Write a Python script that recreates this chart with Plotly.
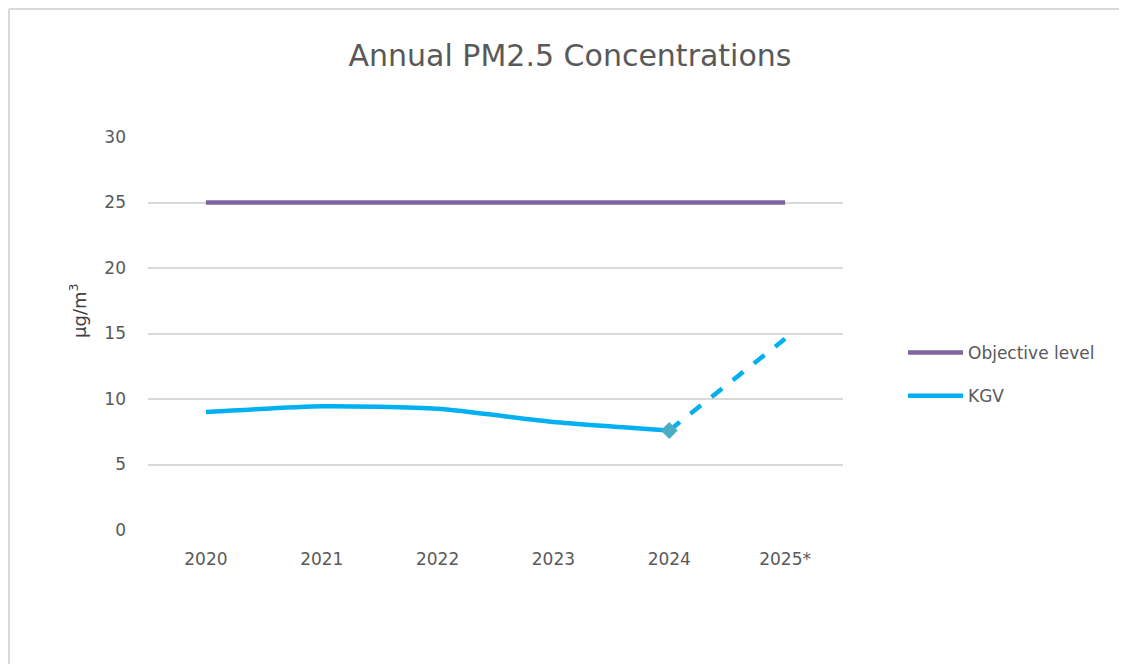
import plotly.graph_objects as go

years = ["2020", "2021", "2022", "2023", "2024", "2025*"]
objective = [25, 25, 25, 25, 25, 25]
kgv_years = ["2020", "2021", "2022", "2023", "2024"]
kgv_measured = [9.0, 9.45, 9.25, 8.25, 7.6]
kgv_proj_years = ["2024", "2025*"]
kgv_proj = [7.6, 14.6]

FONT = "'DejaVu Sans', sans-serif"
GREY = "#595959"
OFF = 8  # browser body margin

fig = go.Figure()
fig.add_trace(go.Scatter(x=years, y=objective, mode="lines", name="Objective level",
                         legendgroup="a", line=dict(color="#8064A2", width=4.5)))
fig.add_trace(go.Scatter(x=kgv_years, y=kgv_measured, mode="lines", name="KGV",
                         legendgroup="b",
                         line=dict(color="#00B0F0", width=4.5, shape="spline", smoothing=0.6)))
fig.add_trace(go.Scatter(x=kgv_proj_years, y=kgv_proj, mode="lines", showlegend=False,
                         legendgroup="b",
                         line=dict(color="#00B0F0", width=4.5, dash="dash")))
fig.add_trace(go.Scatter(x=[kgv_proj_years[0]], y=[kgv_proj[0]], mode="markers", showlegend=False,
                         legendgroup="b",
                         marker=dict(symbol="diamond", size=13, color="#4BACC6")))

W, H = 1127 - OFF, 664 - OFF
L, R, T, B = 148 - OFF, 843 - OFF, 137 - OFF, 530 - OFF
pw, ph = R - L, B - T

def px(x):
    return (x - OFF - L) / pw

def py(y):
    return (B - (y - OFF)) / ph

fig.update_layout(
    width=W, height=H,
    margin=dict(l=L, r=W - R, t=T, b=H - B),
    paper_bgcolor="white", plot_bgcolor="white",
    font=dict(family=FONT, color=GREY, size=17),
    title=dict(text="Annual PM2.5 Concentrations", xref="paper", x=px(570), xanchor="center",
               yref="container", y=1 - (55 - OFF) / H, yanchor="middle",
               font=dict(size=30, color=GREY)),
    xaxis=dict(type="category", range=[-0.5, 5.5], showgrid=False, showline=False,
               ticks="", tickfont=dict(size=17, color=GREY), ticklabelstandoff=17),
    yaxis=dict(range=[0, 30], dtick=5, showgrid=True, gridcolor="#D9D9D9", gridwidth=2,
               zeroline=False, showline=False, tickfont=dict(size=17, color=GREY),
               ticklabelstandoff=21),
    legend=dict(x=px(903), y=py(335), xanchor="left", yanchor="top",
                font=dict(size=17, color=GREY), itemwidth=55, traceorder="grouped",
                tracegroupgap=18, bgcolor="rgba(0,0,0,0)"),
    showlegend=True,
)

fig.add_annotation(text="µg/m<sup>3</sup>", xref="paper", yref="paper",
                   x=px(78), y=py(311), textangle=-90, showarrow=False,
                   font=dict(size=18, color="#404040"), xanchor="center", yanchor="middle")

border = dict(color="#D9D9D9", width=2)
fig.add_shape(type="line", xref="paper", yref="paper", x0=px(9), x1=px(1140),
              y0=py(9), y1=py(9), line=border)
fig.add_shape(type="line", xref="paper", yref="paper", x0=px(9), x1=px(9),
              y0=py(9), y1=py(680), line=border)

fig.write_html("out.html")
